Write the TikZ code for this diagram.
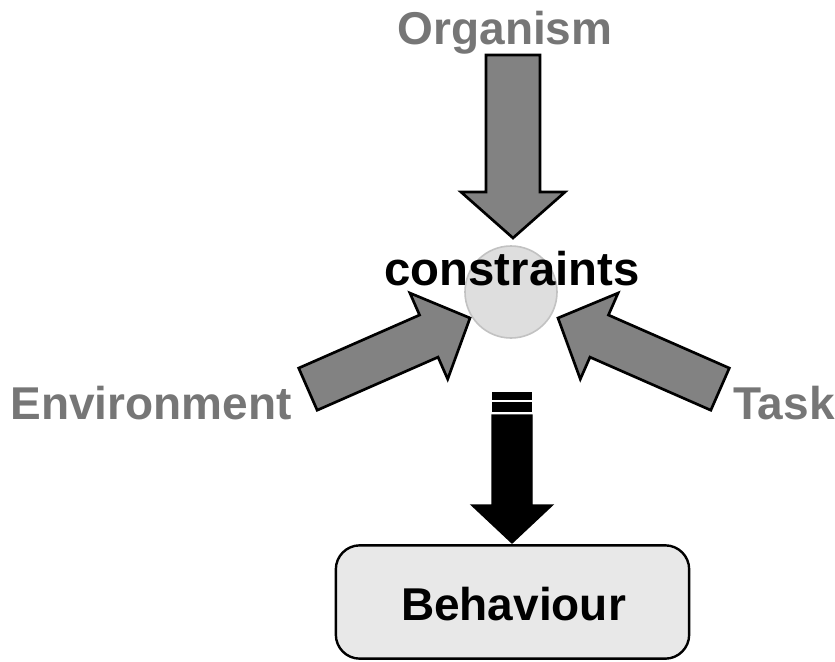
\documentclass[tikz,border=0pt]{standalone}
\usepackage{fontspec}
\setmainfont{Liberation Sans}
\definecolor{labelgray}{HTML}{767676}
\definecolor{arrowgray}{HTML}{828282}
\definecolor{circfill}{HTML}{DEDEDE}
\definecolor{circline}{HTML}{C2C2C2}
\definecolor{boxfill}{HTML}{E8E8E8}
\tikzset{
  arrowstyle/.style={draw=black, line width=2pt, line join=miter, fill=arrowgray},
  blackarrow/.style={draw=black, line width=1pt, fill=black},
  pics/blockarrow/.style args={#1/#2/#3/#4/#5}{code={
    \draw[#5] (-#1,-#2/2) -- (-#4,-#2/2) -- (-#4,-#3/2) -- (0,0) -- (-#4,#3/2) -- (-#4,#2/2) -- (-#1,#2/2) -- cycle;
  }},
  lbl/.style={font=\fontsize{34.5}{40}\selectfont\bfseries, text=labelgray, inner sep=0pt},
  blk/.style={font=\fontsize{35.5}{40}\selectfont\bfseries, text=black, inner sep=0pt},
}
\begin{document}
\begin{tikzpicture}[x=0.75pt, y=-0.75pt]
\useasboundingbox (0,0) rectangle (835,661);
% constraint circle
\node[circle, minimum size=69pt, fill=circfill, draw=circline, line width=1.2pt] (circ) at (511,292) {};
% block arrows
\coordinate (orgtip) at (513,238);
\coordinate (envtip) at (470,318);
\coordinate (tasktip) at (558,318);
\coordinate (behtip) at (512,543);
\pic[rotate=-90] at (orgtip) {blockarrow={183/54/104/46/arrowstyle}};
\pic[rotate=23.7] at (envtip) {blockarrow={177/46/94/45/arrowstyle}};
\pic[rotate=156.3] at (tasktip) {blockarrow={177/46/94/45/arrowstyle}};
% black arrow with stripes
\pic[rotate=-90] at (behtip) {blockarrow={128/40/81/38/blackarrow}};
\fill[black] (492,402) rectangle (532,412);
\fill[black] (492,392) rectangle (532,400);
% labels
\node[blk, anchor=base] (cons) at (512,285) {constraints};
\node[lbl, anchor=base] (org) at (505,44) {Organism};
\node[lbl, anchor=base] (env) at (151,419) {Environment};
\node[lbl, anchor=base] (task) at (784,419) {Task};
% behaviour box
\node[draw=black, line width=1.8pt, fill=boxfill, rounded corners=18pt,
      minimum width=265pt, minimum height=85pt] (beh) at (512.5,602) {};
\node[blk, font=\fontsize{34.5}{40}\selectfont\bfseries, anchor=base] (behtext) at (513.5,620) {Behaviour};
\end{tikzpicture}
\end{document}
